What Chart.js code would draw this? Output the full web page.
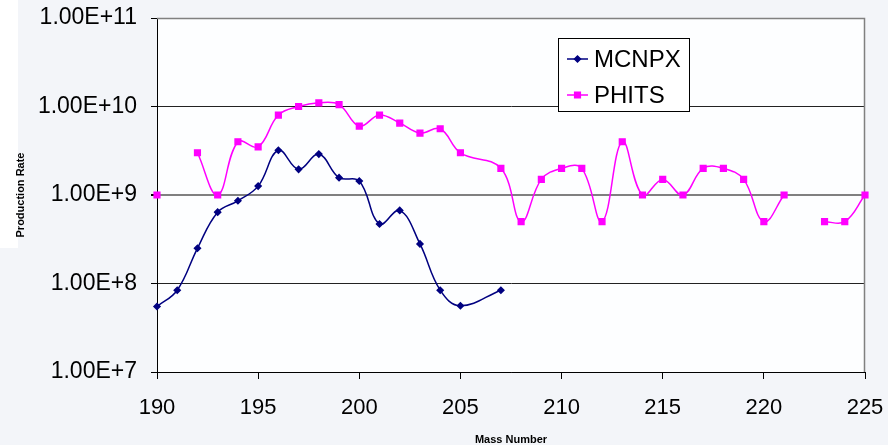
<!DOCTYPE html>
<html>
<head>
<meta charset="utf-8">
<script src="https://cdn.jsdelivr.net/npm/chart.js@4.4.1/dist/chart.umd.min.js"></script>
<style>
  html, body { margin: 0; padding: 0; background: #f3f5f9; }
  canvas { display: block; }
</style>
</head>
<body>
<canvas id="rateChart" width="888" height="445"></canvas>
<script>
// mass numbers and production rates
const mcnpxMass = [190, 191, 192, 193, 194, 195, 196, 197, 198, 199, 200, 201, 202, 203, 204, 205, 207];
const mcnpxRate = [5.5e7, 8.4e7, 2.5e8, 6.4e8, 8.6e8, 1.26e9, 3.2e9, 1.95e9, 2.9e9, 1.57e9, 1.44e9, 4.7e8, 6.7e8, 2.8e8, 8.4e7, 5.6e7, 8.4e7];

const phitsMass = [190, 191, 192, 193, 194, 195, 196, 197, 198, 199, 200, 201, 202, 203, 204, 205,
                   207, 208, 209, 210, 211, 212, 213, 214, 215, 216, 217, 218, 219, 220, 221, 222, 223, 224, 225];
const phitsRate = [1e9, null, 3e9, 1e9, 4e9, 3.5e9, 8e9, 1e10, 1.1e10, 1.05e10, 6e9, 8e9, 6.5e9, 5e9, 5.6e9, 3e9,
                   2e9, 5e8, 1.5e9, 2e9, 2e9, 5e8, 4e9, 1e9, 1.5e9, 1e9, 2e9, 2e9, 1.5e9, 5e8, 1e9, null, 5e8, 5e8, 1e9];

const yTicks = [1e7, 1e8, 1e9, 1e10, 1e11];
const xTicks = [190, 195, 200, 205, 210, 215, 220, 225];

const FONT = '"Liberation Sans", Arial, sans-serif';

function toPoints(xs, ys) {
    return xs.map((x, i) => ({ x: x, y: ys[i] }));
}

// plot area fill, grey top/right border, little white patch at the left
const frame = {
    id: 'frame',
    beforeDraw(chart) {
        const { ctx, chartArea: a } = chart;
        ctx.save();
        ctx.fillStyle = '#ffffff';
        ctx.fillRect(0, 0, 18, 248);
        ctx.fillStyle = '#fdfeff';
        ctx.fillRect(a.left, a.top, a.right - a.left, a.bottom - a.top);
        ctx.restore();
    },
    beforeDatasetsDraw(chart) {
        const { ctx, chartArea: a } = chart;
        ctx.save();
        ctx.strokeStyle = '#808080';
        ctx.lineWidth = 1.5;
        ctx.beginPath();
        ctx.moveTo(a.left, a.top + 0.5);
        ctx.lineTo(a.right - 0.5, a.top + 0.5);
        ctx.lineTo(a.right - 0.5, a.bottom);
        ctx.stroke();
        ctx.restore();
    }
};

// Excel-style boxed legend inside the plot
const boxLegend = {
    id: 'boxLegend',
    afterDraw(chart) {
        const ctx = chart.ctx;
        ctx.save();
        ctx.fillStyle = '#ffffff';
        ctx.fillRect(558.5, 38.5, 131, 73);
        ctx.strokeStyle = '#000000';
        ctx.lineWidth = 1;
        ctx.strokeRect(558.5, 38.5, 131, 73);
        const rows = [59, 95];
        chart.data.datasets.forEach((ds, i) => {
            const y = rows[i];
            ctx.strokeStyle = ds.borderColor;
            ctx.lineWidth = 1.5;
            ctx.beginPath();
            ctx.moveTo(567, y);
            ctx.lineTo(588, y);
            ctx.stroke();
            Chart.helpers.drawPoint(ctx, { pointStyle: ds.pointStyle, radius: ds.pointRadius, borderWidth: 1 }, 577.5, y);
            ctx.fillStyle = ds.pointBackgroundColor;
            ctx.fill();
            ctx.fillStyle = '#000000';
            ctx.font = '24px ' + FONT;
            ctx.textBaseline = 'middle';
            ctx.textAlign = 'left';
            ctx.fillText(ds.label, 594, y + 1);
        });
        ctx.restore();
    }
};

function createRateChart() {
    const ctx = document.getElementById('rateChart').getContext('2d');
    new Chart(ctx, {
        type: 'line',
        data: {
            datasets: [{
                label: 'MCNPX',
                data: toPoints(mcnpxMass, mcnpxRate),
                borderColor: '#000080',
                backgroundColor: '#000080',
                pointBackgroundColor: '#000080',
                pointBorderColor: '#000080',
                pointStyle: 'rectRot',
                pointRadius: 3,
                borderWidth: 1.5,
                tension: 0.4,
                clip: false,
            }, {
                label: 'PHITS',
                data: toPoints(phitsMass, phitsRate),
                borderColor: '#ff00ff',
                backgroundColor: '#ff00ff',
                pointBackgroundColor: '#ff00ff',
                pointBorderColor: '#ff00ff',
                pointStyle: 'rect',
                pointRadius: 4,
                borderWidth: 1.5,
                tension: 0.4,
                spanGaps: false,
                clip: false,
            }],
        },
        options: {
            responsive: false,
            animation: false,
            layout: { padding: { top: 18, right: 23, left: 0, bottom: 0 } },
            plugins: {
                legend: { display: false },
                tooltip: { enabled: false },
            },
            scales: {
                x: {
                    type: 'linear',
                    min: 190,
                    max: 225,
                    afterBuildTicks: (axis) => { axis.ticks = xTicks.map(v => ({ value: v })); },
                    afterFit: (axis) => {
                        axis.height = 73;
                        axis.paddingLeft = 0;
                        axis.paddingRight = 0;
                    },
                    grid: {
                        drawOnChartArea: false,
                        drawTicks: true,
                        tickLength: 7,
                        tickColor: '#000000',
                    },
                    border: { color: '#000000', width: 1 },
                    ticks: {
                        color: '#000000',
                        font: { family: FONT, size: 22 },
                        padding: 16,
                        maxRotation: 0,
                    },
                    title: {
                        display: true,
                        text: 'Mass Number',
                        color: '#000000',
                        font: { family: FONT, size: 11, weight: 'bold', lineHeight: 1 },
                        padding: { top: 0, bottom: 0 },
                    },
                },
                y: {
                    type: 'logarithmic',
                    min: 1e7,
                    max: 1e11,
                    afterBuildTicks: (axis) => { axis.ticks = yTicks.map(v => ({ value: v })); },
                    afterFit: (axis) => {
                        axis.width = 157;
                        axis.paddingTop = 0;
                        axis.paddingBottom = 0;
                    },
                    grid: {
                        color: (c) => {
                            const v = c.tick && c.tick.value;
                            if (v === 1e9) return '#808080';
                            if (v === 1e11) return 'rgba(0,0,0,0)';
                            return '#222222';
                        },
                        lineWidth: (c) => (c.tick && c.tick.value === 1e9) ? 2 : 1,
                        drawTicks: true,
                        tickLength: 6,
                        tickColor: '#000000',
                    },
                    border: { color: '#000000', width: 1 },
                    ticks: {
                        color: '#000000',
                        font: { family: FONT, size: 23 },
                        padding: 14,
                        callback: (v) => Number(v).toExponential(2).toUpperCase(),
                    },
                    title: {
                        display: true,
                        text: 'Production Rate',
                        color: '#000000',
                        font: { family: FONT, size: 11, weight: 'bold', lineHeight: 1 },
                        padding: { top: 15, bottom: 0 },
                    },
                },
            },
        },
        plugins: [frame, boxLegend],
    });
}

document.addEventListener('DOMContentLoaded', () => {
    createRateChart();
});
</script>
</body>
</html>
